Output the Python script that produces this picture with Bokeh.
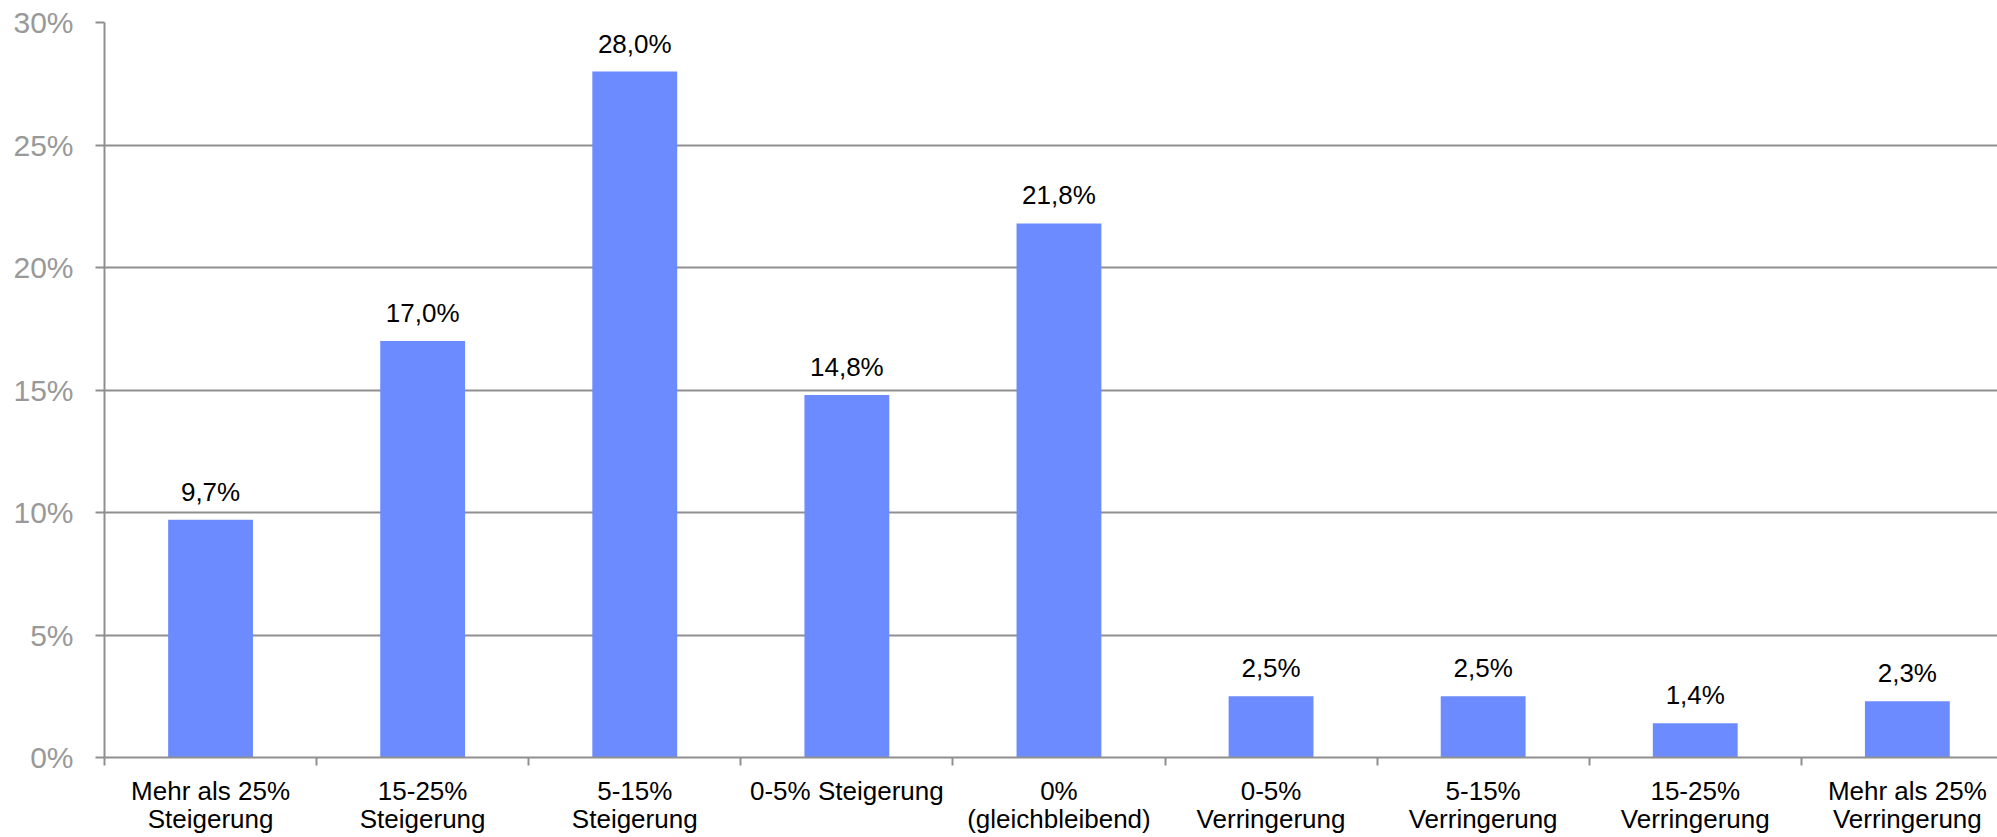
from bokeh.plotting import figure
from bokeh.models import ColumnDataSource, FixedTicker, Range1d
from bokeh.core.properties import value
from bokeh.embed import file_html
from bokeh.resources import INLINE

categories = [
    "Mehr als 25%\nSteigerung",
    "15-25%\nSteigerung",
    "5-15%\nSteigerung",
    "0-5% Steigerung",
    "0%\n(gleichbleibend)",
    "0-5%\nVerringerung",
    "5-15%\nVerringerung",
    "15-25%\nVerringerung",
    "Mehr als 25%\nVerringerung",
]
values = [9.7, 17.0, 28.0, 14.8, 21.8, 2.5, 2.5, 1.4, 2.3]
y_ticks = [0, 5, 10, 15, 20, 25, 30]

FONT = "Liberation Sans"
LINE = "#8f8f8f"

x = [i + 0.5 for i in range(len(categories))]
labels = [f"{v:.1f}".replace(".", ",") + "%" for v in values]
src = ColumnDataSource(dict(x=x, top=values, label=labels))

p = figure(width=1997, height=837, output_backend="svg", toolbar_location=None,
           x_range=Range1d(0, 8.925), y_range=Range1d(0, 30),
           min_border_left=104, min_border_right=0, min_border_top=22, min_border_bottom=76)
p.outline_line_color = None
p.background_fill_color = "white"
p.border_fill_color = "white"

p.vbar(x="x", top="top", width=0.4, bottom=0, source=src, color="#6B8BFF", line_color=None)
p.text(x="x", y="top", text="label", source=src, text_align="center", text_baseline="alphabetic",
       y_offset=-28, text_font=value(FONT), text_font_size="26px", text_color="black")

# y axis
p.yaxis.ticker = FixedTicker(ticks=y_ticks, minor_ticks=[])
p.yaxis.major_label_overrides = {t: f"{t}%" for t in y_ticks}
p.yaxis.major_label_text_font = FONT
p.yaxis.major_label_text_font_size = "30px"
p.yaxis.major_label_text_color = "#999999"
p.yaxis.axis_line_color = LINE
p.yaxis.axis_line_width = 2
p.yaxis.major_tick_line_color = LINE
p.yaxis.major_tick_line_width = 2
p.yaxis.major_tick_in = 0
p.yaxis.major_tick_out = 9
p.yaxis.major_label_standoff = 22

# x axis: labels at category centres, boundary ticks as minor ticks
p.xaxis.ticker = FixedTicker(ticks=x, minor_ticks=list(range(0, 9)))
p.xaxis.major_label_overrides = {xx: c for xx, c in zip(x, categories)}
p.xaxis.major_label_text_font = FONT
p.xaxis.major_label_text_font_size = "26px"
p.xaxis.major_label_text_color = "black"
p.xaxis.major_label_text_line_height = 0.95
p.xaxis.axis_line_color = LINE
p.xaxis.axis_line_width = 2
p.xaxis.major_tick_line_color = None
p.xaxis.major_tick_in = 0
p.xaxis.major_tick_out = 8
p.xaxis.minor_tick_line_color = LINE
p.xaxis.minor_tick_line_width = 2
p.xaxis.minor_tick_in = 0
p.xaxis.minor_tick_out = 8
p.xaxis.major_label_standoff = 10

p.xgrid.grid_line_color = None
p.ygrid.grid_line_color = LINE
p.ygrid.grid_line_width = 2

open("out.html", "w").write(file_html(p, INLINE))
